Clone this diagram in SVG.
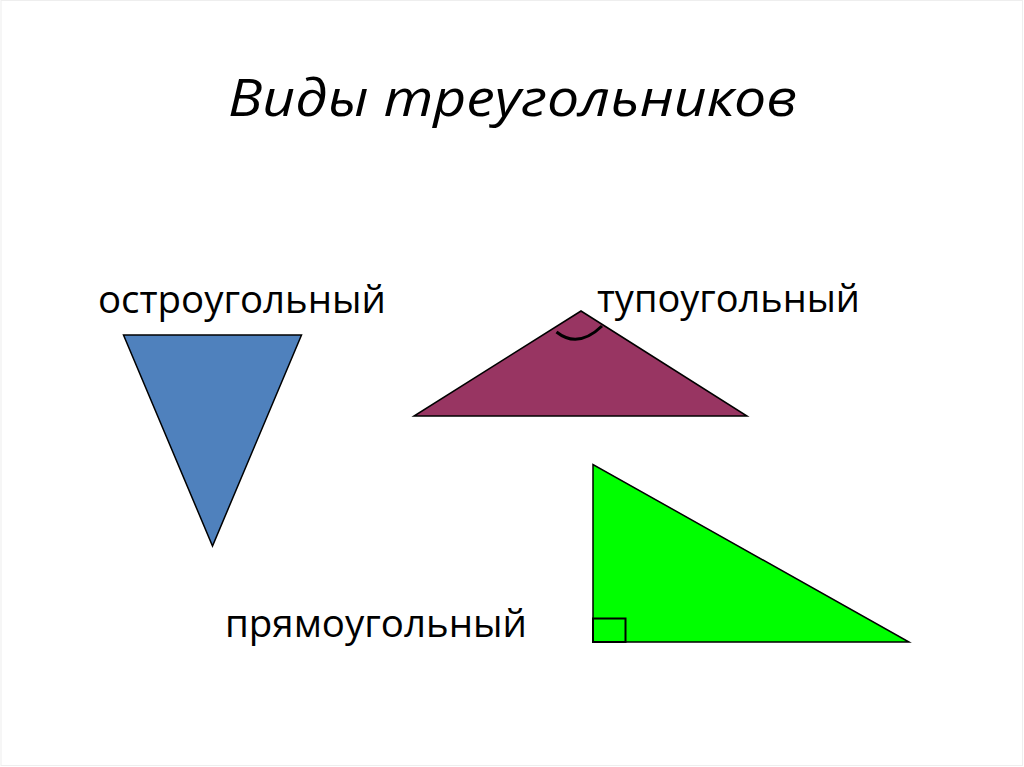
<svg xmlns="http://www.w3.org/2000/svg" width="1024" height="767" viewBox="0 0 1024 767">
<style>
.lbl{font-family:"Open Sans","Noto Sans","Liberation Sans",sans-serif;font-size:38px;fill:#000}
.title{font-family:"Open Sans","Noto Sans","Liberation Sans",sans-serif;font-size:52px;font-style:italic;fill:#000}
.tri{stroke:#000;stroke-width:1.5;stroke-linejoin:miter}
</style>
<rect x="0" y="0" width="1024" height="767" fill="#fff"/>
<rect x="1" y="0.5" width="1021.5" height="765" fill="none" stroke="#eeeeee" stroke-width="1"/>
<g id="title"><text class="title" x="228" y="116" textLength="569" lengthAdjust="spacingAndGlyphs">Виды треугольников</text></g>
<g id="acute">
<polygon class="tri" points="123.5,335 301.5,335 212.5,546" fill="#4F81BD"/>
<text class="lbl" x="98" y="313" textLength="288" lengthAdjust="spacingAndGlyphs">остроугольный</text>
</g>
<g id="obtuse">
<polygon class="tri" points="581,311 747,416 414,416" fill="#983562"/>
<path d="M556.5,332 Q578,349 602,326" fill="none" stroke="#000" stroke-width="3"/>
<text class="lbl" x="597" y="312" textLength="263" lengthAdjust="spacingAndGlyphs">тупоугольный</text>
</g>
<g id="right">
<polygon class="tri" points="593,464.5 593,642 909,642" fill="#00FF00"/>
<rect x="593" y="618.5" width="32.5" height="23.5" fill="none" stroke="#000" stroke-width="2"/>
<text class="lbl" x="225" y="637" textLength="302" lengthAdjust="spacingAndGlyphs">прямоугольный</text>
</g>
</svg>
